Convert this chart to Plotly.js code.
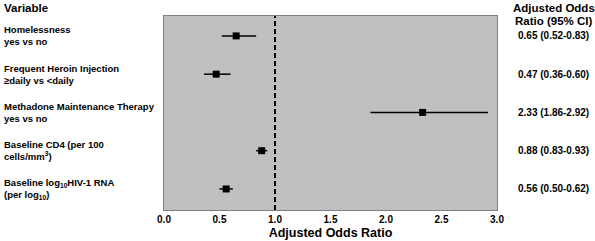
<!DOCTYPE html>
<html><head><meta charset="utf-8">
<script src="https://cdn.plot.ly/plotly-3.0.1.min.js"></script>
<style>body{margin:0}#c{width:595px;height:241px}</style>
</head><body><div id="c"></div>
<script>
const variables = ["Homelessness<br>yes vs no", "Frequent Heroin Injection<br>≥daily vs <daily", "Methadone Maintenance Therapy<br>yes vs no", "Baseline CD4 (per 100<br>cells/mm<sup>3</sup>)", "Baseline log<sub>10</sub>HIV-1 RNA<br>(per log<sub>10</sub>)"];
const orValues = [0.65, 0.47, 2.33, 0.88, 0.56];
const ciLow = [0.52, 0.36, 1.86, 0.83, 0.50];
const ciHigh = [0.83, 0.60, 2.92, 0.93, 0.62];
const ciText = ["0.65 (0.52-0.83)", "0.47 (0.36-0.60)", "2.33 (1.86-2.92)", "0.88 (0.83-0.93)", "0.56 (0.50-0.62)"];
const xTicks = [0, 0.5, 1, 1.5, 2, 2.5, 3];

const ypos = variables.map((v, i) => variables.length - i);
const font = "Liberation Sans, Arial, sans-serif";

const trace = {
  x: orValues, y: ypos, type: "scatter", mode: "markers",
  marker: {symbol: "square", size: 7, color: "black"},
  error_x: {type: "data", symmetric: false,
    array: orValues.map((v, i) => ciHigh[i] - v),
    arrayminus: orValues.map((v, i) => v - ciLow[i]),
    color: "black", thickness: 1.5, width: 0},
  hoverinfo: "skip"
};

const annotations = [];
annotations.push({xref: "paper", yref: "paper", x: -0.485, y: 1.082, xanchor: "left", yanchor: "top",
  text: "<b>Variable</b>", showarrow: false, font: {family: font, size: 11.5, color: "black"}});
annotations.push({xref: "paper", yref: "paper", x: 1.17, y: 1.085, xanchor: "center", yanchor: "top",
  text: "<b>Adjusted Odds</b>", showarrow: false,
  font: {family: font, size: 11.5, color: "black"}});
annotations.push({xref: "paper", yref: "paper", x: 1.17, y: 1.018, xanchor: "center", yanchor: "top",
  text: "<b>Ratio (95% CI)</b>", showarrow: false,
  font: {family: font, size: 11.5, color: "black"}});
variables.forEach((v, i) => {
  annotations.push({xref: "paper", yref: "y", x: -0.485, y: ypos[i], xanchor: "left", yanchor: "middle",
    text: "<b>" + v + "</b>", showarrow: false, align: "left",
    font: {family: font, size: 9.5, color: "black"}});
  annotations.push({xref: "paper", yref: "y", x: 1.17, y: ypos[i], xanchor: "center", yanchor: "middle",
    text: "<b>" + ciText[i] + "</b>", showarrow: false,
    font: {family: font, size: 10, color: "black"}});
});

const layout = {
  width: 595, height: 241,
  margin: {l: 164, r: 98, t: 16, b: 31},
  paper_bgcolor: "white", plot_bgcolor: "#c0c0c0",
  showlegend: false,
  xaxis: {range: [0, 3], tickvals: xTicks, ticktext: xTicks.map(t => "<b>" + t.toFixed(1) + "</b>"),
    showgrid: false, zeroline: false, showline: true, linecolor: "#808080", linewidth: 1, mirror: true,
    ticks: "", tickfont: {family: font, size: 10, color: "black"},
    title: {text: "<b>Adjusted Odds Ratio</b>", font: {family: font, size: 12.5, color: "black"}, standoff: 4}},
  yaxis: {range: [0.45, 5.52], showticklabels: false, showgrid: false, zeroline: false,
    showline: true, linecolor: "#808080", linewidth: 1, mirror: true, ticks: ""},
  shapes: [{type: "line", xref: "x", yref: "paper", x0: 1, x1: 1, y0: 0, y1: 1,
    line: {color: "black", width: 2, dash: "5px,3px"}}],
  annotations: annotations
};

Plotly.newPlot("c", [trace], layout, {displayModeBar: false, staticPlot: true});
</script></body></html>
